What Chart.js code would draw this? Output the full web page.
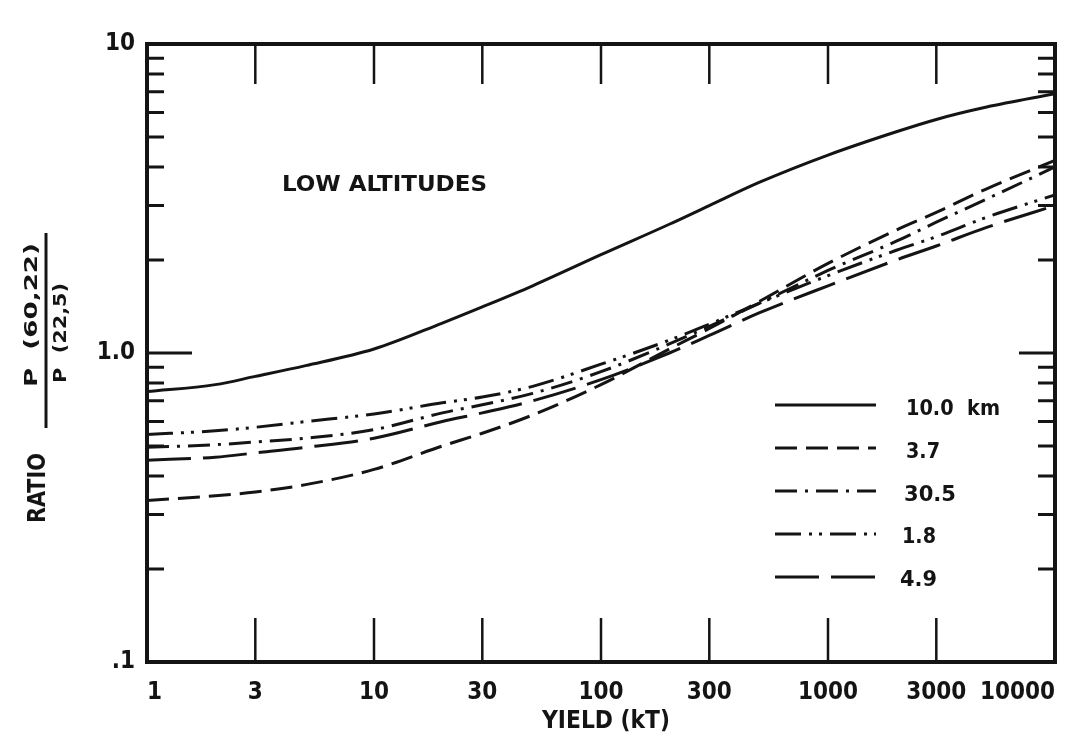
<!DOCTYPE html>
<html>
<head>
<meta charset="utf-8">
<script src="https://cdn.jsdelivr.net/npm/chart.js@4.4.1/dist/chart.umd.min.js"></script>
<style>
  html, body { margin: 0; padding: 0; background: #fff; }
  #chart { display: block; }
</style>
</head>
<body>
<canvas id="chart" width="1080" height="748"></canvas>
<script>
const yields = [1, 2, 3, 5, 10, 20, 30, 50, 100, 200, 300, 500, 1000, 2000, 3000, 5000, 10000];

// ratio P(60,22) / P(22,5), one array per burst altitude
const ratio10_0 = [0.75, 0.79, 0.84, 0.91, 1.03, 1.25, 1.41, 1.65, 2.08, 2.61, 3.0, 3.57, 4.37, 5.2, 5.7, 6.25, 6.9];
const ratio3_7  = [0.333, 0.345, 0.355, 0.375, 0.42, 0.50, 0.55, 0.63, 0.79, 1.03, 1.20, 1.47, 1.95, 2.5, 2.85, 3.4, 4.2];
const ratio30_5 = [0.495, 0.505, 0.515, 0.53, 0.565, 0.64, 0.68, 0.74, 0.87, 1.07, 1.22, 1.45, 1.85, 2.3, 2.65, 3.15, 4.0];
const ratio1_8  = [0.545, 0.56, 0.575, 0.60, 0.635, 0.69, 0.72, 0.78, 0.92, 1.10, 1.24, 1.45, 1.78, 2.15, 2.38, 2.75, 3.25];
const ratio4_9  = [0.45, 0.46, 0.475, 0.495, 0.53, 0.60, 0.64, 0.70, 0.82, 1.0, 1.14, 1.35, 1.65, 2.0, 2.22, 2.55, 3.0];

const seriesLabels = ['10.0  km', '3.7', '30.5', '1.8', '4.9'];

const xTickValues = [1, 3, 10, 30, 100, 300, 1000, 3000, 10000];
const xInnerTicks = [3, 10, 30, 100, 300, 1000, 3000];
const yTickValues = [0.1, 1, 10];
const yTickLabels = ['.1', '1.0', '10'];
const minorSteps = [2, 3, 4, 5, 6, 7, 8, 9];

const INK = '#141414';
const FONT = "'Liberation Sans Narrow', 'DejaVu Sans Condensed', 'Liberation Sans', sans-serif";

function pts(values) {
    return yields.map((x, i) => ({ x: x, y: values[i] }));
}

// draw bold text squeezed/stretched to a given width
function fitText(ctx, text, x, y, size, width, align, rotate) {
    ctx.save();
    ctx.font = `bold ${size}px ${FONT}`;
    const w = ctx.measureText(text).width;
    ctx.translate(x, y);
    if (rotate) ctx.rotate(-Math.PI / 2);
    ctx.scale(width / w, 1);
    ctx.textAlign = align;
    ctx.textBaseline = 'middle';
    ctx.fillStyle = INK;
    ctx.fillText(text, 0, 0);
    ctx.restore();
}

const frameAndText = {
    id: 'frameAndText',
    afterDatasetsDraw(chart) {
        const ctx = chart.ctx;
        const a = chart.chartArea;
        const xs = chart.scales.x;
        const ys = chart.scales.y;

        ctx.save();
        ctx.strokeStyle = INK;
        ctx.lineCap = 'butt';

        // frame
        ctx.lineWidth = 4;
        ctx.strokeRect(a.left, a.top, a.right - a.left, a.bottom - a.top);

        // inward ticks on left and right
        ctx.lineWidth = 3;
        [0.1, 1].forEach(decade => {
            minorSteps.forEach(m => {
                const py = ys.getPixelForValue(m * decade);
                ctx.beginPath();
                ctx.moveTo(a.left, py); ctx.lineTo(a.left + 17, py);
                ctx.moveTo(a.right, py); ctx.lineTo(a.right - 17, py);
                ctx.stroke();
            });
        });
        const one = ys.getPixelForValue(1);
        ctx.beginPath();
        ctx.moveTo(a.left, one); ctx.lineTo(a.left + 45, one);
        ctx.moveTo(a.right, one); ctx.lineTo(a.right - 36, one);
        ctx.stroke();

        // long ticks on top and bottom
        ctx.lineWidth = 2.5;
        xInnerTicks.forEach(v => {
            const px = xs.getPixelForValue(v);
            ctx.beginPath();
            ctx.moveTo(px, a.top); ctx.lineTo(px, a.top + 40);
            ctx.moveTo(px, a.bottom); ctx.lineTo(px, a.bottom - 44);
            ctx.stroke();
        });

        // legend inside the plot
        const rowY = [405, 448, 491, 534, 577];
        chart.data.datasets.forEach((ds, i) => {
            ctx.save();
            ctx.lineWidth = 3;
            ctx.setLineDash(ds.borderDash || []);
            ctx.beginPath();
            ctx.moveTo(775, rowY[i]);
            ctx.lineTo(876, rowY[i]);
            ctx.stroke();
            ctx.restore();
        });
        fitText(ctx, seriesLabels[0], 906, 409, 22, 94, 'left');
        fitText(ctx, seriesLabels[1], 906, 452, 22, 34, 'left');
        fitText(ctx, seriesLabels[2], 904, 495, 22, 52, 'left');
        fitText(ctx, seriesLabels[3], 902, 537, 22, 34, 'left');
        fitText(ctx, seriesLabels[4], 900, 580, 22, 37, 'left');

        // annotation
        fitText(ctx, 'LOW ALTITUDES', 282, 185, 22, 205, 'left');

        // x axis title
        fitText(ctx, 'YIELD (kT)', 606, 722, 24, 128, 'center');

        // y axis title: RATIO  P(60,22) / P(22,5)
        fitText(ctx, 'RATIO', 38, 488, 25, 70, 'center', true);
        fitText(ctx, 'P  (60,22)', 32, 315, 18, 144, 'center', true);
        fitText(ctx, 'P  (22,5)', 61, 333, 18, 100, 'center', true);
        ctx.lineWidth = 3;
        ctx.beginPath();
        ctx.moveTo(46, 233); ctx.lineTo(46, 428);
        ctx.stroke();

        ctx.restore();
    }
};

function lineSet(label, values, dash) {
    return {
        label: label,
        data: pts(values),
        borderColor: INK,
        borderWidth: 3,
        borderDash: dash,
        pointRadius: 0,
        fill: false,
        cubicInterpolationMode: 'monotone'
    };
}

new Chart(document.getElementById('chart'), {
    type: 'line',
    data: {
        datasets: [
            lineSet(seriesLabels[0], ratio10_0, []),
            lineSet(seriesLabels[1], ratio3_7, [22, 9]),
            lineSet(seriesLabels[2], ratio30_5, [22, 8, 3, 8]),
            lineSet(seriesLabels[3], ratio1_8, [26, 8, 3, 7, 3, 8]),
            lineSet(seriesLabels[4], ratio4_9, [44, 12])
        ]
    },
    options: {
        responsive: false,
        animation: false,
        devicePixelRatio: 1,
        layout: { autoPadding: false, padding: { top: 44, right: 25, left: 0, bottom: 0 } },
        plugins: {
            legend: { display: false },
            tooltip: { enabled: false }
        },
        scales: {
            x: {
                type: 'logarithmic',
                min: 1,
                max: 10000,
                afterBuildTicks: axis => { axis.ticks = xTickValues.map(v => ({ value: v })); },
                afterFit: scale => { scale.height = 86; },
                grid: { display: false, drawTicks: false },
                border: { display: false },
                ticks: {
                    autoSkip: false,
                    maxRotation: 0,
                    align: 'inner',
                    padding: 16,
                    color: INK,
                    font: { family: FONT, size: 24, weight: 'bold' },
                    callback: (v, i) => String(xTickValues[i])
                }
            },
            y: {
                type: 'logarithmic',
                min: 0.1,
                max: 10,
                afterBuildTicks: axis => { axis.ticks = yTickValues.map(v => ({ value: v })); },
                afterFit: scale => { scale.width = 147; },
                grid: { display: false, drawTicks: false },
                border: { display: false },
                ticks: {
                    autoSkip: false,
                    padding: 12,
                    color: INK,
                    font: { family: FONT, size: 24, weight: 'bold' },
                    callback: (v, i) => yTickLabels[i]
                }
            }
        }
    },
    plugins: [frameAndText]
});
</script>
</body>
</html>
